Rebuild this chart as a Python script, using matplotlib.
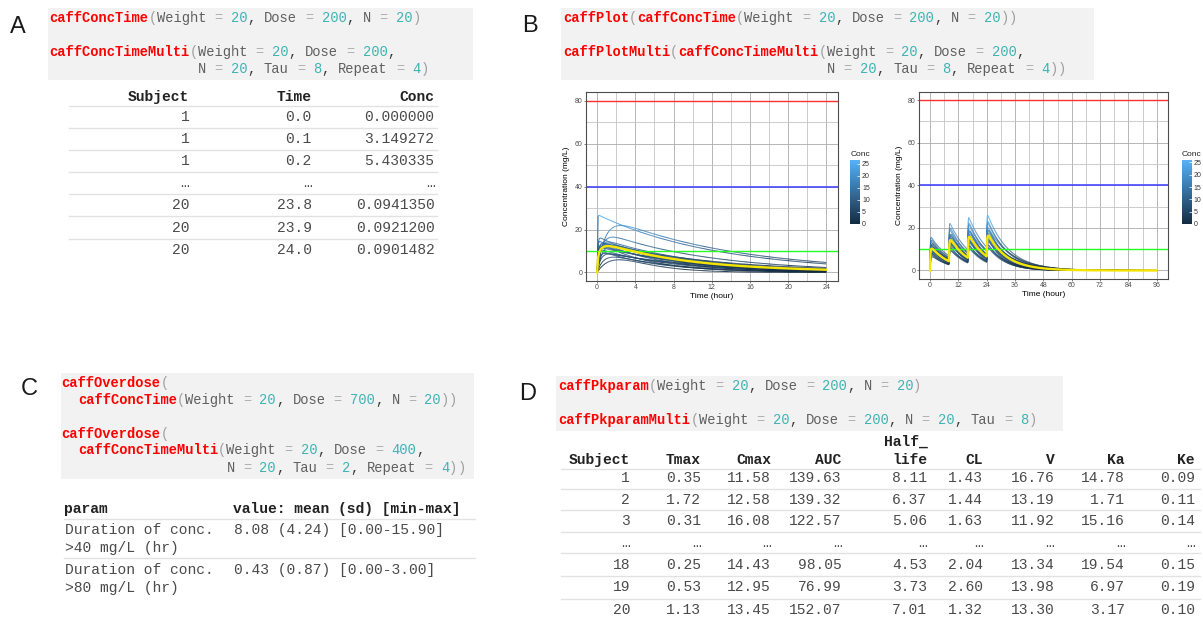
import re
import numpy as np
import matplotlib
matplotlib.use("Agg")
import matplotlib.pyplot as plt
from matplotlib.collections import LineCollection
from matplotlib.colors import LinearSegmentedColormap, Normalize
from matplotlib.patches import Rectangle
from matplotlib.cm import ScalarMappable

W, H = 1203, 618
MONO = ["Liberation Mono", "DejaVu Sans Mono"]
SANS = ["Liberation Sans", "DejaVu Sans"]
plt.rcParams["font.family"] = SANS

# ---- code snippets shown in the grey boxes ----
code_a = ["caffConcTime(Weight = 20, Dose = 200, N = 20)",
          "caffConcTimeMulti(Weight = 20, Dose = 200,",
          "                  N = 20, Tau = 8, Repeat = 4)"]
code_b = ["caffPlot(caffConcTime(Weight = 20, Dose = 200, N = 20))",
          "caffPlotMulti(caffConcTimeMulti(Weight = 20, Dose = 200,",
          "                                N = 20, Tau = 8, Repeat = 4))"]
code_c = ["caffOverdose(",
          "  caffConcTime(Weight = 20, Dose = 700, N = 20))",
          "caffOverdose(",
          "  caffConcTimeMulti(Weight = 20, Dose = 400,",
          "                    N = 20, Tau = 2, Repeat = 4))"]
code_d = ["caffPkparam(Weight = 20, Dose = 200, N = 20)",
          "caffPkparamMulti(Weight = 20, Dose = 200, N = 20, Tau = 8)"]

# ---- table A ----
tab_a_cols = ["Subject", "Time", "Conc"]
tab_a_rows = [["1", "0.0", "0.000000"],
              ["1", "0.1", "3.149272"],
              ["1", "0.2", "5.430335"],
              ["…", "…", "…"],
              ["20", "23.8", "0.0941350"],
              ["20", "23.9", "0.0921200"],
              ["20", "24.0", "0.0901482"]]

# ---- table C ----
tab_c_cols = ["param", "value: mean (sd) [min-max]"]
tab_c_rows = [[["Duration of conc.", ">40 mg/L (hr)"], "8.08 (4.24) [0.00-15.90]"],
              [["Duration of conc.", ">80 mg/L (hr)"], "0.43 (0.87) [0.00-3.00]"]]

# ---- table D ----
tab_d_cols = ["Subject", "Tmax", "Cmax", "AUC", "life", "CL", "V", "Ka", "Ke"]
tab_d_rows = [["1", "0.35", "11.58", "139.63", "8.11", "1.43", "16.76", "14.78", "0.09"],
              ["2", "1.72", "12.58", "139.32", "6.37", "1.44", "13.19", "1.71", "0.11"],
              ["3", "0.31", "16.08", "122.57", "5.06", "1.63", "11.92", "15.16", "0.14"],
              ["…"] * 9,
              ["18", "0.25", "14.43", "98.05", "4.53", "2.04", "13.34", "19.54", "0.15"],
              ["19", "0.53", "12.95", "76.99", "3.73", "2.60", "13.98", "6.97", "0.19"],
              ["20", "1.13", "13.45", "152.07", "7.01", "1.32", "13.30", "3.17", "0.10"]]

# ---- PK parameters of the simulated subjects (read / estimated from the curves) ----
dose = 200
single_V = [16.76, 13.19, 11.92, 7.4, 7.6, 12.5, 15.0, 18.0, 20.0, 14.0,
            17.0, 16.0, 21.0, 13.5, 19.0, 10.5, 22.0, 13.34, 13.98, 13.30]
single_Ka = [14.78, 1.71, 15.16, 40.0, 1.2, 3.0, 6.0, 10.0, 2.5, 8.0,
             0.6, 12.0, 5.0, 4.0, 20.0, 2.0, 1.5, 19.54, 6.97, 3.17]
single_Ke = [0.09, 0.11, 0.14, 0.08, 0.075, 0.10, 0.12, 0.13, 0.11, 0.085,
             0.30, 0.10, 0.09, 0.12, 0.16, 0.09, 0.14, 0.15, 0.19, 0.10]

multi_V = [12.2, 14.8, 19.9, 16.4, 13.6, 21.5, 17.5, 23.6, 15.3, 18.6,
           27.5, 14.1, 20.7, 16.8, 12.9, 22.4, 18.1, 25.0, 15.9, 19.2]
multi_Ka = [9.8, 4.7, 2.2, 15.1, 3.1, 4.3, 7.9, 5.9, 8.3, 11.2,
            3.4, 12.4, 9.1, 5.5, 6.2, 13.6, 3.8, 7.2, 2.6, 6.8]
multi_Ke = [0.11, 0.13, 0.12, 0.10, 0.14, 0.15, 0.12, 0.13, 0.15, 0.14,
            0.12, 0.11, 0.10, 0.16, 0.12, 0.11, 0.11, 0.14, 0.12, 0.13]
multi_tau = 8
multi_repeat = 4

hlines = [(80, "#ff3030", 1.0), (40, "#4848ff", 1.2), (10, "#22ff22", 1.0)]


def conc1(t, V, ka, ke):
    c = dose / V * ka / (ka - ke) * (np.exp(-ke * t) - np.exp(-ka * t))
    return np.where(t >= 0, c, 0.0)


t_single = np.arange(0, 241) * 0.1
t_multi = np.arange(0, 961) * 0.1
single = [conc1(t_single, v, a, e) for v, a, e in zip(single_V, single_Ka, single_Ke)]
multi = [sum(conc1(t_multi - k * multi_tau, v, a, e) for k in range(multi_repeat))
         for v, a, e in zip(multi_V, multi_Ka, multi_Ke)]

cmap = LinearSegmentedColormap.from_list("conc", ["#132B43", "#56B1F7"])

fig = plt.figure(figsize=(W / 100, H / 100), dpi=100)
bg = fig.add_axes([0, 0, 1, 1], zorder=0)
bg.set_xlim(0, W)
bg.set_ylim(H, 0)
bg.axis("off")


def put(x, y, s, size, ha="left", bold=False, color="#222222", family=MONO, off=0.33):
    # y is the visual middle of the digits / capitals
    bg.text(x, y + off * size * 100 / 72, s, fontsize=size, ha=ha, va="baseline",
            fontweight="bold" if bold else "normal", color=color, family=family)


TOKEN = re.compile(r"(?P<func>[A-Za-z_]\w*(?=\())|(?P<num>\d+)|(?P<name>[A-Za-z_]\w*)|(?P<sp>\s+)|(?P<ch>.)")
CODE_SIZE = 9.9


def code(x0, y, line):
    cw = 0.6 * CODE_SIZE * 100 / 72
    for m in TOKEN.finditer(line):
        s = m.group()
        kind = m.lastgroup
        if kind == "sp":
            continue
        bold = False
        if kind == "func":
            color, bold = "#ff0000", True
        elif kind == "num":
            color = "#3fb3b3"
        elif kind == "name":
            color = "#5f5f5f"
        elif s == "=":
            color = "#b0b0b0"
        elif s in "()":
            color = "#a0a0a0"
        else:
            color = "#3a3a3a"
        put(x0 + m.start() * cw, y, s, CODE_SIZE, bold=bold, color=color)


def box(x0, y0, x1, y1):
    bg.add_patch(Rectangle((x0, y0), x1 - x0, y1 - y0, facecolor="#f2f2f2", edgecolor="none", zorder=0))


def sep(x0, x1, y):
    bg.plot([x0, x1], [y, y], color="#e2e2e2", lw=1.0, zorder=1)


# panel letters
for lab, x, y in [("A", 18.3, 25), ("B", 530, 24), ("C", 29.3, 386.7), ("D", 527.7, 391.7)]:
    put(x, y, lab, 17, ha="center", family=SANS, color="#1a1a1a", off=0.358)

# ---- A ----
box(48, 8, 473, 80)
for y, line in zip([17.3, 51, 68], code_a):
    code(49.3, y, line)
TS = 10.5
a_right = [189.3, 311.7, 434.5]
for x, s in zip(a_right, tab_a_cols):
    put(x, 95.7, s, TS, ha="right", bold=True)
a_rows_y = [116, 138.2, 160.3, 182.5, 204.6, 226.8, 248.9]
for y in [105.7, 127.7, 150, 172, 194, 216, 238.7]:
    sep(69, 437, y)
for y, row in zip(a_rows_y, tab_a_rows):
    for x, s in zip(a_right, row):
        put(x, y, s, TS, ha="right", color="#4a4a4a")

# ---- B ----
box(561, 8, 1094, 80)
for y, line in zip([17.3, 51, 68.3], code_b):
    code(563, y, line)

# ---- C ----
box(60.7, 373.3, 474, 479.3)
for y, line in zip([382.7, 399.3, 433, 449.7, 467.3], code_c):
    code(61.4, y, line)
put(64.3, 508.3, tab_c_cols[0], TS, bold=True)
put(233, 508.3, tab_c_cols[1], TS, bold=True)
sep(64, 475, 519)
sep(64, 475, 558.3)
for (y1, y2), (lines, val) in zip([(529, 546.7), (568.7, 586.7)], tab_c_rows):
    put(65.4, y1, lines[0], TS, color="#4a4a4a")
    put(65.4, y2, lines[1], TS, color="#4a4a4a")
    put(234, y1, val, TS, color="#4a4a4a")

# ---- D ----
box(556, 376, 1063, 431)
for y, line in zip([385, 419], code_d):
    code(558.3, y, line)
d_right = [630, 700.7, 771, 841.7, 927.3, 983.3, 1054.3, 1125, 1195]
put(927.3, 441, "Half_", TS, ha="right", bold=True)
for x, s in zip(d_right, tab_d_cols):
    put(x, 459.3, s, TS, ha="right", bold=True)
for y in [469, 489, 510, 531.7, 553, 575.7, 599]:
    sep(561, 1200, y)
for y, row in zip([477.5, 499, 520.5, 542, 564, 586.5, 609], tab_d_rows):
    for x, s in zip(d_right, row):
        put(x, y, s, TS, ha="right", color="#4a4a4a")


# ---- concentration plots ----
def conc_plot(rect, cbar_rect, cbar_title_xy, t, curves, xmax, xmajor, xminor):
    ax = fig.add_axes([rect[0] / W, 1 - rect[3] / H, (rect[2] - rect[0]) / W, (rect[3] - rect[1]) / H])
    vmax = max(c.max() for c in curves)
    norm = Normalize(0, vmax)
    for c in curves:
        pts = np.column_stack([t, c])
        segs = np.stack([pts[:-1], pts[1:]], axis=1)
        lc = LineCollection(segs, cmap=cmap, norm=norm, linewidths=0.7, zorder=2)
        lc.set_array((c[:-1] + c[1:]) / 2)
        ax.add_collection(lc)
    for yv, col, lw in hlines:
        ax.axhline(yv, color=col, lw=lw, zorder=2.5)
    ax.plot(t, np.mean(curves, axis=0), color="#f5e400", lw=1.7, zorder=3)
    ax.set_xlim(-0.05 * xmax, 1.05 * xmax)
    ax.set_ylim(-4, 84)
    ax.set_xticks(np.arange(0, xmax + 0.1, xmajor))
    ax.set_xticks(np.arange(xminor, xmax, xmajor), minor=True)
    ax.set_yticks([0, 20, 40, 60, 80])
    ax.set_yticks([10, 30, 50, 70], minor=True)
    ax.set_axisbelow(True)
    ax.grid(True, which="major", color="#ababab", lw=0.6)
    ax.grid(True, which="minor", color="#c4c4c4", lw=0.6)
    for sp in ax.spines.values():
        sp.set_color("#4d4d4d")
        sp.set_linewidth(0.8)
    ax.tick_params(which="major", labelsize=5, labelcolor="#4d4d4d", color="#4d4d4d",
                   length=1.5, width=0.5, pad=1)
    ax.tick_params(which="minor", length=0)
    ax.set_xlabel("Time (hour)", fontsize=6, labelpad=1)
    ax.set_ylabel("Concentration (mg/L)", fontsize=6, labelpad=3)

    cax = fig.add_axes([cbar_rect[0] / W, 1 - cbar_rect[3] / H,
                        (cbar_rect[2] - cbar_rect[0]) / W, (cbar_rect[3] - cbar_rect[1]) / H])
    cb = fig.colorbar(ScalarMappable(norm=norm, cmap=cmap), cax=cax, ticks=[0, 5, 10, 15, 20, 25])
    cb.outline.set_visible(False)
    cax.tick_params(labelsize=5, labelcolor="#333333", length=2, width=0.5,
                    color="white", direction="in", pad=1.5)
    put(cbar_title_xy[0], cbar_title_xy[1], "Conc", 6, family=SANS, color="#222222", off=0.358)


conc_plot((585.7, 92.3, 837.7, 281), (850, 160, 860, 224), (851, 153),
          t_single, single, 24, 4, 2)
conc_plot((918.7, 91.7, 1168, 279), (1181.7, 160, 1191.7, 224), (1181.7, 153),
          t_multi, multi, 96, 12, 6)

fig.savefig("out.png", dpi=100)
